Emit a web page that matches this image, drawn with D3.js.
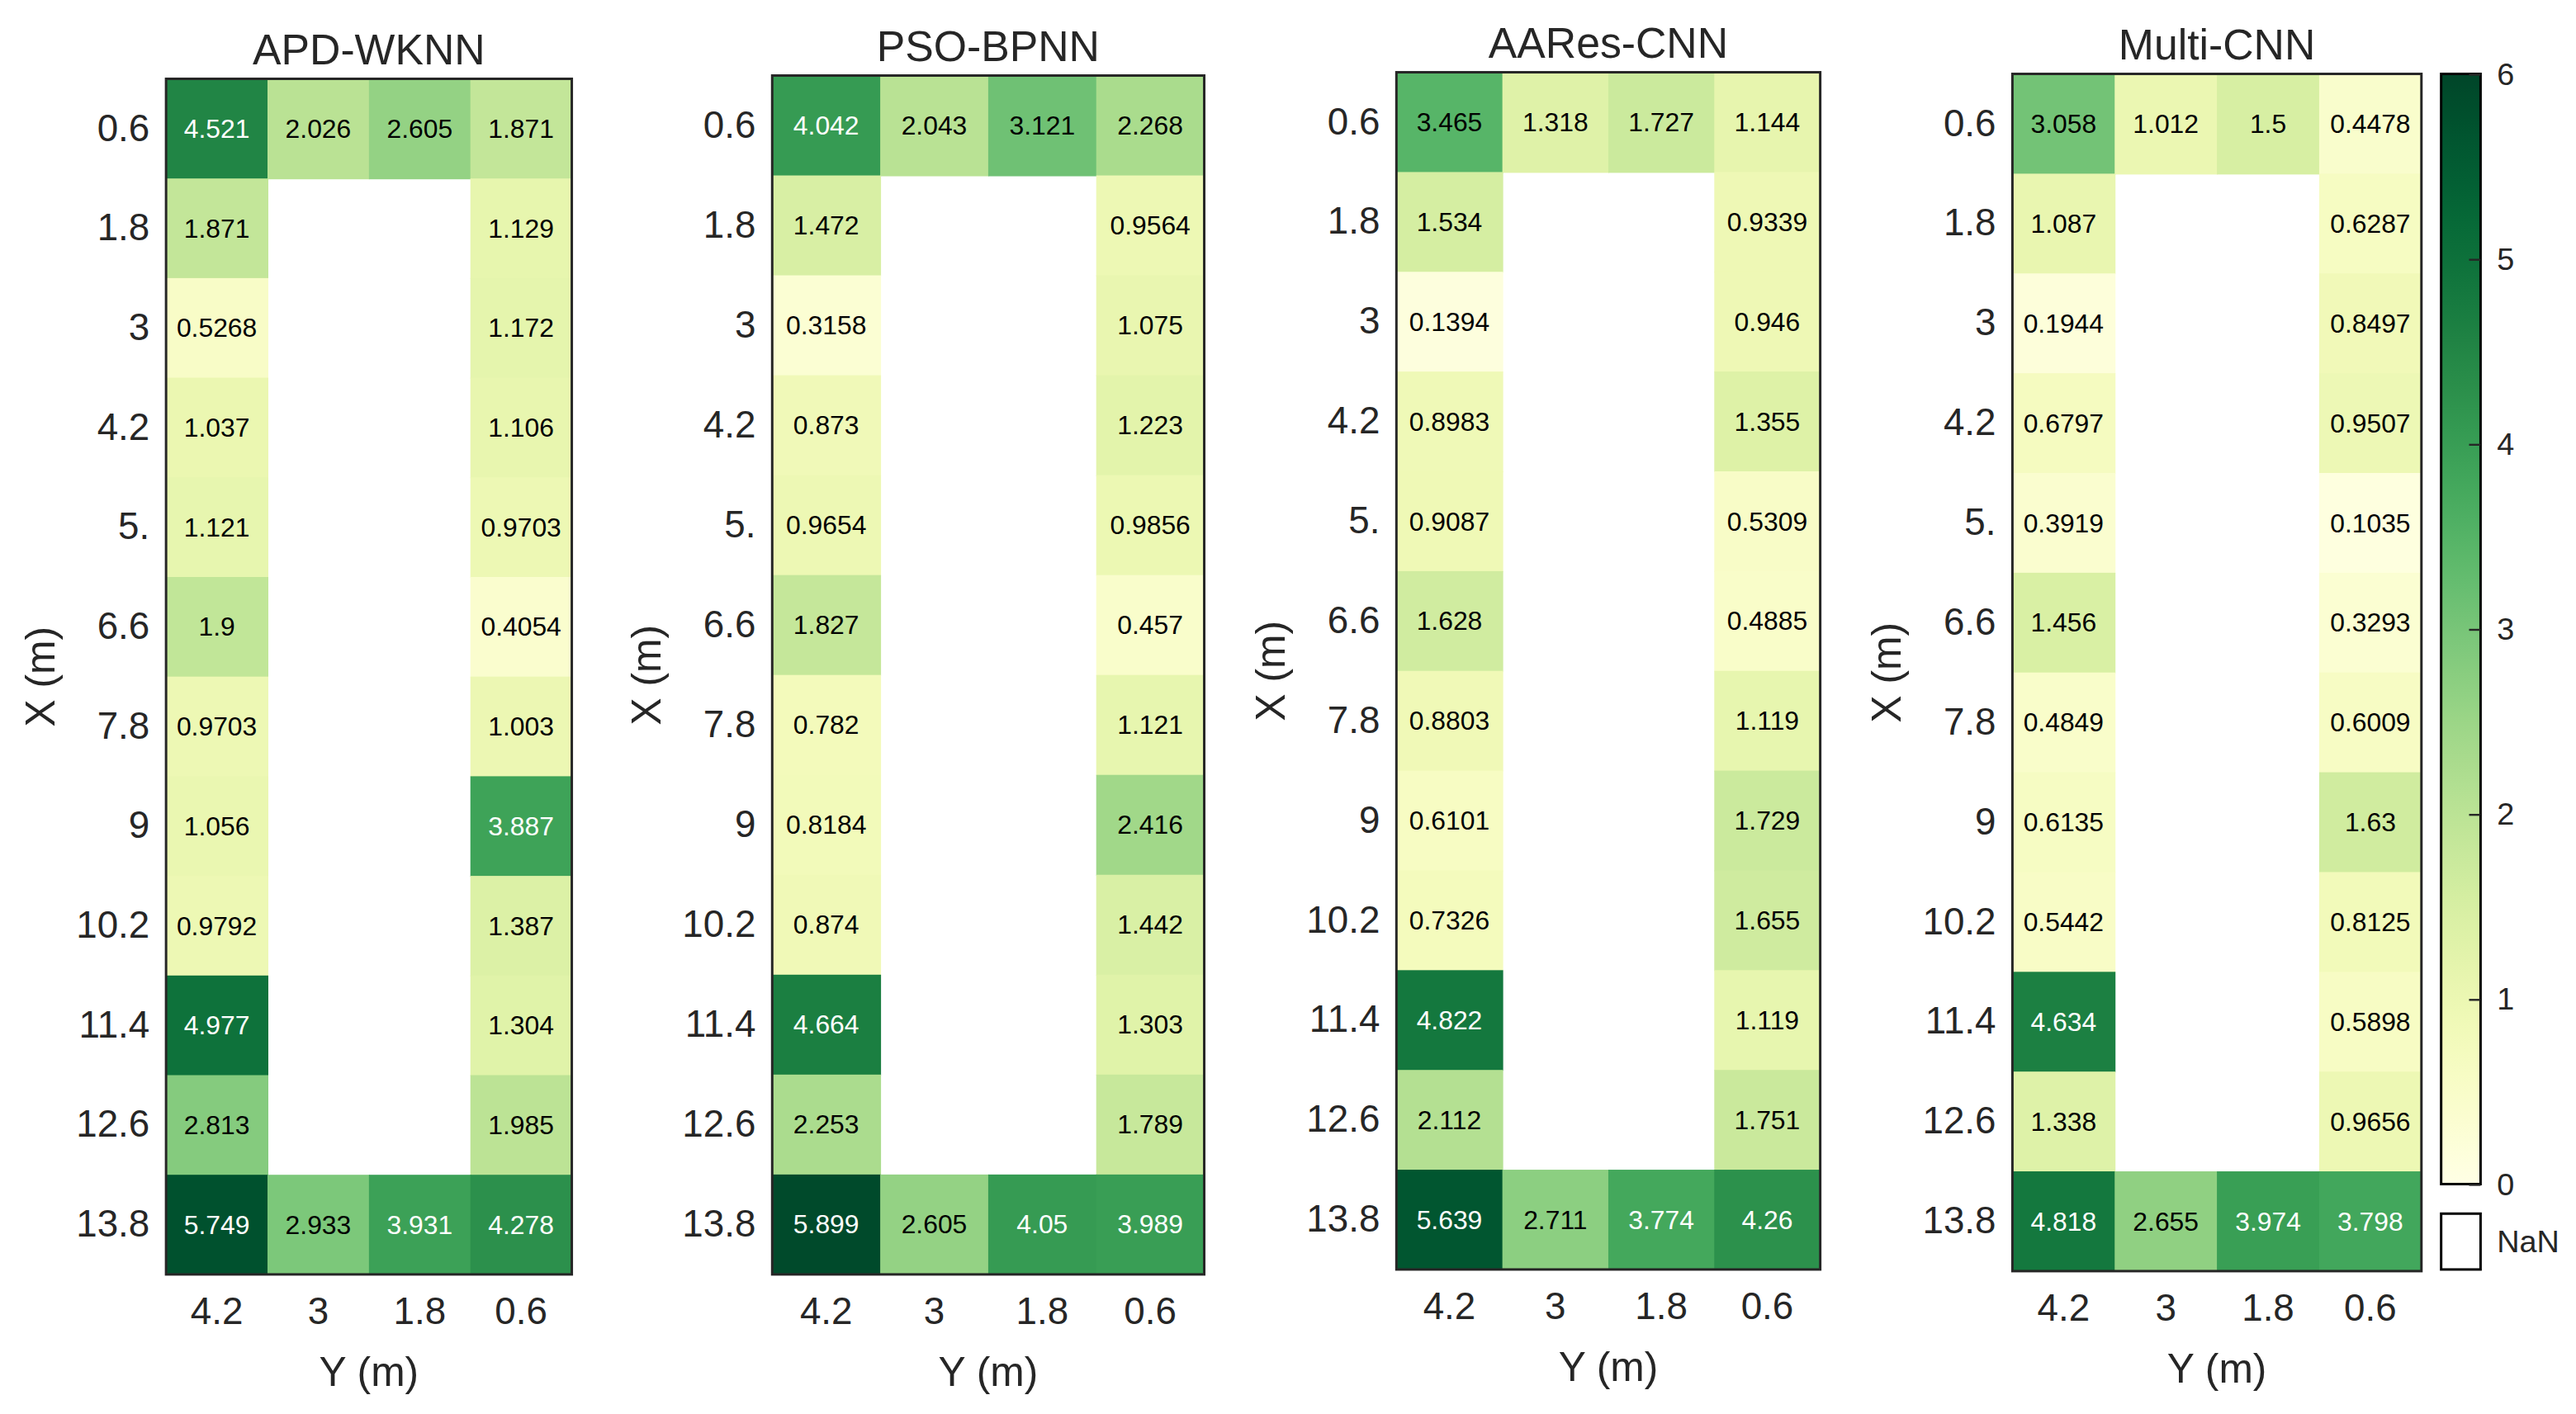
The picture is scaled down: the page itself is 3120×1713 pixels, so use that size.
<!DOCTYPE html>
<html>
<head>
<meta charset="utf-8" />
<title>heatmaps</title>
<script src="https://cdnjs.cloudflare.com/ajax/libs/d3/7.8.5/d3.min.js"></script>
<style>
    body { margin: 0; background: #ffffff; }
    svg { display: block; }
    text { font-family: "Liberation Sans", Arial, Helvetica, sans-serif; }
</style>
</head>
<body>
<svg id="chart"></svg>
<script>
// row labels (X, m) and column labels (Y, m)
var xLabels = ['0.6', '1.8', '3', '4.2', '5.', '6.6', '7.8', '9', '10.2', '11.4', '12.6', '13.8'];
var yLabels = ['4.2', '3', '1.8', '0.6'];
var titles = ['APD-WKNN', 'PSO-BPNN', 'AARes-CNN', 'Multi-CNN'];
var colorTicks = [0, 1, 2, 3, 4, 5, 6];

// one row per X label, columns in yLabels order; null = NaN
var apdWknn = [
    [4.521, 2.026, 2.605, 1.871],
    [1.871, null, null, 1.129],
    [0.5268, null, null, 1.172],
    [1.037, null, null, 1.106],
    [1.121, null, null, 0.9703],
    [1.9, null, null, 0.4054],
    [0.9703, null, null, 1.003],
    [1.056, null, null, 3.887],
    [0.9792, null, null, 1.387],
    [4.977, null, null, 1.304],
    [2.813, null, null, 1.985],
    [5.749, 2.933, 3.931, 4.278]
];
var psoBpnn = [
    [4.042, 2.043, 3.121, 2.268],
    [1.472, null, null, 0.9564],
    [0.3158, null, null, 1.075],
    [0.873, null, null, 1.223],
    [0.9654, null, null, 0.9856],
    [1.827, null, null, 0.457],
    [0.782, null, null, 1.121],
    [0.8184, null, null, 2.416],
    [0.874, null, null, 1.442],
    [4.664, null, null, 1.303],
    [2.253, null, null, 1.789],
    [5.899, 2.605, 4.05, 3.989]
];
var aaresCnn = [
    [3.465, 1.318, 1.727, 1.144],
    [1.534, null, null, 0.9339],
    [0.1394, null, null, 0.946],
    [0.8983, null, null, 1.355],
    [0.9087, null, null, 0.5309],
    [1.628, null, null, 0.4885],
    [0.8803, null, null, 1.119],
    [0.6101, null, null, 1.729],
    [0.7326, null, null, 1.655],
    [4.822, null, null, 1.119],
    [2.112, null, null, 1.751],
    [5.639, 2.711, 3.774, 4.26]
];
var multiCnn = [
    [3.058, 1.012, 1.5, 0.4478],
    [1.087, null, null, 0.6287],
    [0.1944, null, null, 0.8497],
    [0.6797, null, null, 0.9507],
    [0.3919, null, null, 0.1035],
    [1.456, null, null, 0.3293],
    [0.4849, null, null, 0.6009],
    [0.6135, null, null, 1.63],
    [0.5442, null, null, 0.8125],
    [4.634, null, null, 0.5898],
    [1.338, null, null, 0.9656],
    [4.818, 2.655, 3.974, 3.798]
];
var series = [apdWknn, psoBpnn, aaresCnn, multiCnn];

// panel frames (drawing units, viewBox 1568 x 861)
var frames = [
    {left: 101, right: 348, top: 48, bottom: 776},
    {left: 470, right: 733, top: 46, bottom: 776},
    {left: 850, right: 1108, top: 44, bottom: 773},
    {left: 1225, right: 1474, top: 45, bottom: 774}
];

var W = 1568, H = 861;
var svg = d3.select('#chart')
    .attr('width', 3120)
    .attr('height', 1713)
    .attr('viewBox', '0 0 ' + W + ' ' + H);

var color = d3.scaleSequential(d3.interpolateYlGn).domain([0, 6]);
var fmt = d3.format('.4~g');

frames.forEach(function(f, p) {
    var data = series[p];
    var x = d3.scaleBand().domain(yLabels).range([f.left, f.right]);
    var y = d3.scaleBand().domain(xLabels).range([f.top, f.bottom]);

    var cells = [];
    data.forEach(function(row, i) {
        row.forEach(function(v, j) {
            if (v !== null) cells.push({r: xLabels[i], c: yLabels[j], v: v});
        });
    });

    var g = svg.append('g').attr('class', 'panel');

    g.selectAll('rect.cell')
        .data(cells)
        .enter()
        .append('rect')
        .attr('class', 'cell')
        .attr('x', function(d) { return x(d.c); })
        .attr('y', function(d) { return y(d.r); })
        .attr('width', x.bandwidth() + 0.5)
        .attr('height', y.bandwidth() + 0.5)
        .attr('fill', function(d) { return color(d.v); });

    g.selectAll('text.val')
        .data(cells)
        .enter()
        .append('text')
        .attr('class', 'val')
        .attr('x', function(d) { return x(d.c) + x.bandwidth() / 2; })
        .attr('y', function(d) { return y(d.r) + y.bandwidth() / 2; })
        .attr('dy', '0.35em')
        .attr('text-anchor', 'middle')
        .style('font-size', '16px')
        .attr('fill', function(d) { return d.v > 3.6 ? '#ffffff' : '#000000'; })
        .text(function(d) { return fmt(d.v); });

    // frame
    g.append('rect')
        .attr('x', f.left)
        .attr('y', f.top)
        .attr('width', f.right - f.left)
        .attr('height', f.bottom - f.top)
        .attr('fill', 'none')
        .attr('stroke', '#262626')
        .attr('stroke-width', 1.5);

    // row labels
    var ax = d3.axisLeft(y).tickSize(0).tickPadding(10);
    g.append('g')
        .attr('transform', 'translate(' + f.left + ',0)')
        .call(ax)
        .call(function(s) { s.select('.domain').remove(); })
        .selectAll('text')
        .style('font-size', '23px')
        .attr('fill', '#262626');

    // column labels
    var bx = d3.axisBottom(x).tickSize(0).tickPadding(14);
    g.append('g')
        .attr('transform', 'translate(0,' + f.bottom + ')')
        .call(bx)
        .call(function(s) { s.select('.domain').remove(); })
        .selectAll('text')
        .style('font-size', '23px')
        .attr('fill', '#262626');

    g.append('text')
        .attr('x', (f.left + f.right) / 2)
        .attr('y', f.top - 9)
        .attr('text-anchor', 'middle')
        .style('font-size', '26px')
        .attr('fill', '#262626')
        .text(titles[p]);

    g.append('text')
        .attr('x', (f.left + f.right) / 2)
        .attr('y', f.bottom + 68)
        .attr('text-anchor', 'middle')
        .style('font-size', '25px')
        .attr('fill', '#262626')
        .text('Y (m)');

    g.append('text')
        .attr('transform', 'translate(' + (f.left - 68) + ',' + ((f.top + f.bottom) / 2) + ') rotate(-90)')
        .attr('text-anchor', 'middle')
        .style('font-size', '25px')
        .attr('fill', '#262626')
        .text('X (m)');
});

// colorbar
var cb = {left: 1486, right: 1510, top: 45, bottom: 721};
var defs = svg.append('defs');
var grad = defs.append('linearGradient')
    .attr('id', 'cbgrad')
    .attr('x1', 0).attr('y1', 1).attr('x2', 0).attr('y2', 0);
d3.range(0, 1.0001, 0.02).forEach(function(t) {
    grad.append('stop')
        .attr('offset', t)
        .attr('stop-color', d3.interpolateYlGn(t));
});
svg.append('rect')
    .attr('x', cb.left)
    .attr('y', cb.top)
    .attr('width', cb.right - cb.left)
    .attr('height', cb.bottom - cb.top)
    .attr('fill', 'url(#cbgrad)')
    .attr('stroke', '#000000')
    .attr('stroke-width', 1.5);

var cscale = d3.scaleLinear().domain([0, 6]).range([cb.bottom, cb.top]);
svg.append('g')
    .attr('transform', 'translate(' + cb.right + ',0)')
    .call(d3.axisRight(cscale).tickValues(colorTicks).tickFormat(d3.format('d'))
        .tickSizeInner(-7).tickSizeOuter(0).tickPadding(10))
    .call(function(s) {
        s.select('.domain').remove();
        s.selectAll('line').attr('stroke', '#262626').attr('stroke-width', 1.2);
        s.selectAll('text').style('font-size', '19px').attr('fill', '#262626');
    });

// NaN swatch
svg.append('rect')
    .attr('x', cb.left)
    .attr('y', 739)
    .attr('width', cb.right - cb.left)
    .attr('height', 34)
    .attr('fill', '#ffffff')
    .attr('stroke', '#000000')
    .attr('stroke-width', 1.5);
svg.append('text')
    .attr('x', cb.right + 10)
    .attr('y', 756)
    .attr('dy', '0.35em')
    .style('font-size', '19px')
    .attr('fill', '#262626')
    .text('NaN');
</script>
</body>
</html>
